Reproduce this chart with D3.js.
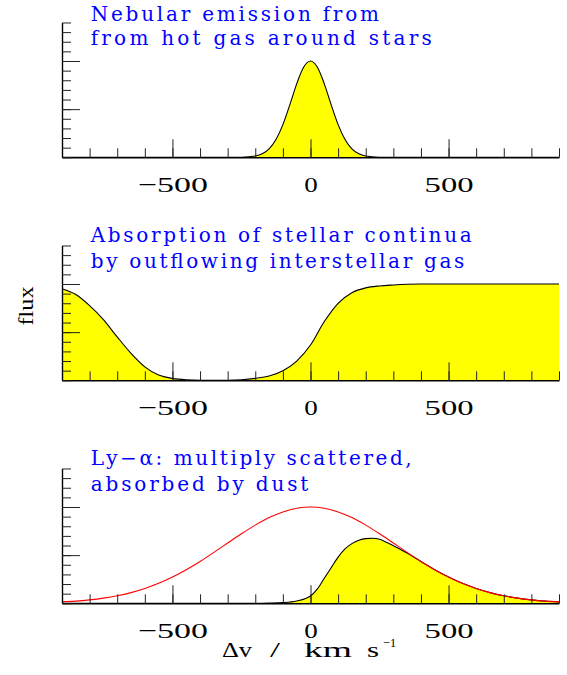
<!DOCTYPE html>
<html><head><meta charset="utf-8">
<script src="https://cdn.jsdelivr.net/npm/d3@7"></script>
<style>body{margin:0;background:#fff}svg{display:block}</style>
</head><body><svg id="c" width="567" height="675"></svg>
<script>
// ---------- data ----------
const velocityDomain = [-900, 900];
const fluxDomain = [0, 1.4];
const xMinorTicks = [-900,-800,-700,-600,-500,-400,-300,-200,-100,0,100,200,300,400,500,600,700,800,900];
const xMajorTicks = [-500, 0, 500];
const yMinorTicks = [0,0.1,0.2,0.3,0.4,0.5,0.6,0.7,0.8,0.9,1.0,1.1,1.2,1.3,1.4];
const yMajorTicks = [0.5, 1.0];

const nebularV    = [-900,-300,-250,-200,-175,-150,-125,-100,-75,-50,-25,0,25,50,75,100,125,150,175,200,250,300,900];
const nebularFlux = [0,0,0.001,0.013,0.036,0.088,0.185,0.339,0.544,0.763,0.935,1,0.935,0.763,0.544,0.339,0.185,0.088,0.036,0.013,0.001,0,0];

const absorptionV    = [-900,-850,-800,-750,-700,-650,-600,-550,-500,-450,-400,-350,-300,-250,-200,-150,-100,-50,0,50,100,150,200,250,300,350,400,900];
const absorptionFlux = [0.95,0.89,0.775,0.63,0.45,0.28,0.14,0.055,0.02,0.005,0,0,0,0.005,0.02,0.045,0.1,0.2,0.367,0.61,0.80,0.91,0.96,0.98,0.99,0.997,1,1];

const lyaIntrinsicV    = [-900,-850,-800,-750,-700,-650,-600,-550,-500,-450,-400,-350,-300,-250,-200,-150,-100,-50,0,50,100,150,200,250,300,350,400,450,500,550,600,650,700,750,800,850,900];
const lyaIntrinsicFlux = [0.015,0.023,0.036,0.054,0.078,0.111,0.154,0.207,0.272,0.349,0.435,0.529,0.626,0.722,0.812,0.89,0.949,0.987,1,0.987,0.949,0.89,0.812,0.722,0.626,0.529,0.435,0.349,0.272,0.207,0.154,0.111,0.078,0.054,0.036,0.023,0.015];

const lyaObservedV    = [-900,-200,-150,-100,-50,0,25,50,75,100,125,150,175,200,225,250,275,300,325,350,375,400,450,500,550,600,650,700,750,800,850,900];
const lyaObservedFlux = [0,0,0.002,0.007,0.024,0.076,0.15,0.26,0.37,0.48,0.565,0.62,0.655,0.672,0.675,0.665,0.634,0.598,0.561,0.522,0.478,0.435,0.349,0.272,0.207,0.154,0.111,0.078,0.054,0.036,0.023,0.015];

const panelTitles = [
  ["Nebular emission from", "from hot gas around stars"],
  ["Absorption of stellar continua", "by outflowing interstellar gas"],
  ["Ly\u2212\u03b1: multiply scattered,", "absorbed by dust"]
];
const xAxisTitleWords = ["\u0394v", "/", "km", "s"];
const xAxisTitleSup = "\u22121";
const yAxisTitle = "flux";

// ---------- layout ----------
const FONT = "'DejaVu Serif', 'Liberation Serif', serif";
const FONT2 = "'Liberation Serif', 'DejaVu Serif', serif";
const svg = d3.select("#c");
const x = d3.scaleLinear().domain(velocityDomain).range([62, 559]);
const panelBottoms = [157.3, 380.3, 603.3];
const unit = 96.3;
const titleBaselines = [[21, 45.3], [241.7, 267.7], [465, 491]];
const titleWidths = [[288.3, 341], [381, 373.6], [321, 217.6]];
const tickLabelWidths = {"-500": 70, "0": 13.5, "500": 49};
const xTitleWordX = [222, 270, 304, 367];
const xTitleWordW = [30, 10, 48, 12];

const panels = [
  {fills: [[nebularV, nebularFlux]], reds: []},
  {fills: [[absorptionV, absorptionFlux]], reds: []},
  {fills: [[lyaObservedV, lyaObservedFlux]], reds: [[lyaIntrinsicV, lyaIntrinsicFlux]]}
];

function styleText(sel, size, color, fam) {
  return sel.style("font-family", fam || FONT).style("font-size", size + "px").attr("fill", color);
}

panels.forEach((p, i) => {
  const b = panelBottoms[i];
  const y = d3.scaleLinear().domain(fluxDomain).range([b, b - unit * 1.4]);
  const g = svg.append("g");
  const area = d3.area().x(d => x(d[0])).y0(y(0)).y1(d => y(d[1])).curve(d3.curveMonotoneX);
  const line = d3.line().x(d => x(d[0])).y(d => y(d[1])).curve(d3.curveMonotoneX);
  p.fills.forEach(([v, f]) => {
    const pts = v.map((vv, k) => [vv, f[k]]);
    g.append("path").attr("d", area(pts)).attr("fill", "#ffff00");
    g.append("path").attr("d", line(pts)).attr("fill", "none").attr("stroke", "#000").attr("stroke-width", 1.1);
  });
  p.reds.forEach(([v, f]) => {
    const pts = v.map((vv, k) => [vv, f[k]]);
    g.append("path").attr("d", line(pts)).attr("fill", "none").attr("stroke", "#ff0000").attr("stroke-width", 1.1);
  });

  // axes
  const ax = g.append("g").attr("transform", `translate(0,${b})`);
  ax.call(d3.axisBottom(x).tickValues(xMinorTicks).tickSizeInner(-9).tickSizeOuter(0).tickFormat(""));
  const axM = g.append("g").attr("transform", `translate(0,${b})`);
  axM.call(d3.axisBottom(x).tickValues(xMajorTicks).tickSizeInner(-18).tickSizeOuter(0));
  axM.select(".domain").remove();
  styleText(axM.selectAll("text"), 22, "#000", FONT2)
    .attr("y", 34.7).attr("dy", null)
    .attr("textLength", d => tickLabelWidths[String(d)]).attr("lengthAdjust", "spacingAndGlyphs");

  const ay = g.append("g").attr("transform", `translate(${x(velocityDomain[0])},0)`);
  ay.call(d3.axisLeft(y).tickValues(yMinorTicks).tickSizeInner(-9).tickSizeOuter(0).tickFormat(""));
  const ayM = g.append("g").attr("transform", `translate(${x(velocityDomain[0])},0)`);
  ayM.call(d3.axisLeft(y).tickValues(yMajorTicks).tickSizeInner(-18).tickSizeOuter(0).tickFormat(""));
  ayM.select(".domain").remove();
  g.selectAll(".domain").attr("stroke-width", 1.4);
  g.selectAll(".tick line").attr("stroke", "#222");

  // titles
  panelTitles[i].forEach((t, j) => {
    styleText(g.append("text").text(t), 20, "#0000ff")
      .attr("x", 90.7).attr("y", titleBaselines[i][j])
      .attr("textLength", titleWidths[i][j]).attr("lengthAdjust", "spacing");
  });
});

// axis titles
xAxisTitleWords.forEach((w, k) => {
  styleText(svg.append("text").text(w), 21, "#000", FONT2)
    .attr("x", xTitleWordX[k]).attr("y", 656.5)
    .attr("textLength", xTitleWordW[k]).attr("lengthAdjust", "spacingAndGlyphs");
});
styleText(svg.append("text").text(xAxisTitleSup), 13, "#000", FONT2)
  .attr("x", 383).attr("y", 647)
  .attr("textLength", 13).attr("lengthAdjust", "spacingAndGlyphs");
styleText(svg.append("text").text(yAxisTitle), 22, "#000", FONT2)
  .attr("transform", "translate(33,306) rotate(-90)")
  .attr("text-anchor", "middle")
  .attr("textLength", 39).attr("lengthAdjust", "spacingAndGlyphs");
</script></body></html>
